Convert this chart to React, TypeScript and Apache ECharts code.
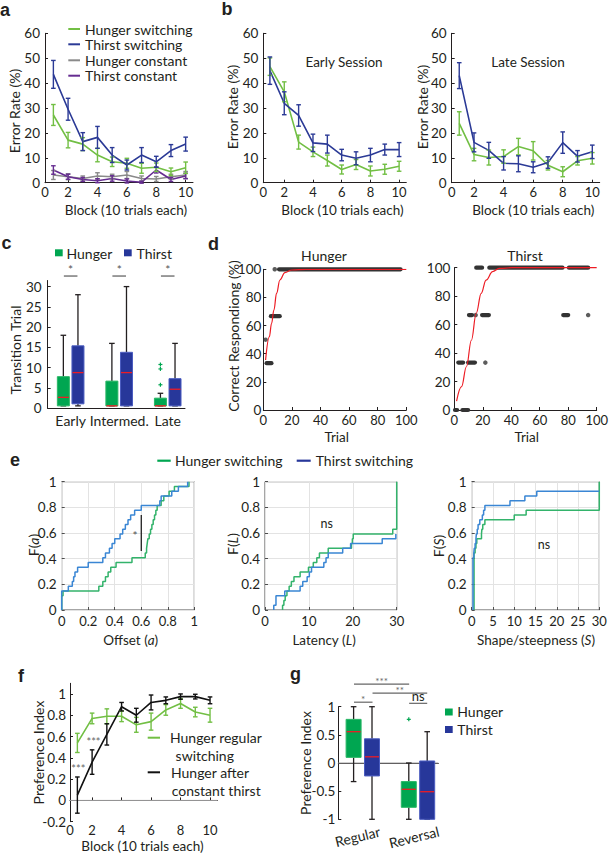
import React, { useEffect, useRef } from 'react';
import * as echarts from 'echarts';

// ---------------- DATA ----------------
const blocks = [1, 2, 3, 4, 5, 6, 7, 8, 9, 10];

// panel a (error rate %, mean and half error bar)
const aHungerSwitchMean = [27.2, 17.1, 15.5, 11.1, 8.4, 7.8, 5.8, 6.2, 4.4, 6.0];
const aHungerSwitchErr = [4.2, 3.1, 2.6, 2.7, 1.9, 2.0, 2.0, 1.7, 1.5, 2.3];
const aThirstSwitchMean = [43.5, 29.5, 16.5, 18.2, 11.1, 7.1, 11.1, 8.4, 12.9, 15.5];
const aThirstSwitchErr = [5.6, 4.4, 3.6, 4.4, 3.0, 2.0, 3.0, 2.2, 2.4, 2.8];
const aHungerConstMean = [3.1, 2.4, 1.7, 2.7, 2.4, 3.1, 1.7, 1.5, 2.4, 3.1];
const aHungerConstErr = [1.8, 1.2, 1.0, 1.3, 1.0, 1.4, 1.0, 1.0, 1.0, 1.4];
const aThirstConstMean = [5.1, 2.4, 1.3, 0.8, 1.7, 0.7, 0.2, 5.1, 1.3, 2.7];
const aThirstConstErr = [1.7, 1.0, 0.8, 0.8, 1.1, 0.8, 0.4, 1.2, 0.8, 1.1];

// panel b
const bEarlyThirstMean = [45.0, 31.9, 27.0, 16.0, 15.5, 11.1, 9.8, 11.1, 13.3, 13.3];
const bEarlyThirstErr = [5.5, 4.6, 4.3, 3.5, 3.6, 2.3, 2.6, 2.7, 2.2, 2.8];
const bEarlyHungerMean = [46.6, 36.5, 16.3, 12.4, 8.9, 5.3, 7.3, 4.7, 5.4, 6.6];
const bEarlyHungerErr = [3.5, 4.0, 2.8, 1.9, 2.2, 1.8, 2.0, 2.0, 2.0, 2.0];
const bLateThirstMean = [43.0, 16.2, 13.0, 7.8, 7.6, 6.2, 8.1, 16.1, 10.6, 12.4];
const bLateThirstErr = [5.2, 3.8, 3.2, 2.7, 3.2, 2.2, 2.3, 4.3, 2.3, 2.7];
const bLateHungerMean = [23.8, 11.3, 10.1, 10.5, 14.5, 12.8, 7.0, 4.4, 8.8, 9.8];
const bLateHungerErr = [4.7, 2.5, 3.0, 2.7, 3.3, 3.7, 1.9, 2.0, 1.7, 2.3];

// panel c (boxes: min, q1, median, q3, max)
const cCategories = ['Early', 'Intermed.', 'Late'];
const cHungerBoxes = [[0.6, 0.6, 2.7, 7.8, 18], [0.6, 0.6, 0.6, 6.7, 16], [0.6, 0.6, 0.6, 2.5, 3.7]];
const cThirstBoxes = [[0.6, 1.1, 8.8, 15.4, 28], [0.6, 0.6, 8.8, 13.8, 30], [0.6, 0.6, 4.7, 7.3, 16]];
const cHungerOutliers = [[3, 10.8], [3, 9.7], [3, 5.8]];
const cSignif = [[1, 32.6, '*'], [2, 32.6, '*'], [3, 32.6, '*']];

// panel d (trial, correct responding %)
const dHungerDots = [[1.6, 50], [8, 100]];
const dHungerRuns = [[2.3, 5.7, 33.3], [5.3, 11.5, 66.7], [11, 96, 100]];
const dHungerFit = [[1.6, 35.5], [4.2, 52], [5.8, 61.6], [7.4, 71], [9.3, 83], [11.6, 92.4], [15.1, 97.6], [19.8, 99.5], [30, 100], [100, 100]];
const dThirstDots = [[15, 66.7], [21.8, 33.3], [94, 66.7]];
const dThirstRuns = [[0.5, 2, 0], [5.7, 9.7, 0], [2.8, 6.2, 33.3], [9.7, 14.5, 33.3], [10.3, 12.5, 66.7], [19.5, 24.3, 66.7], [76.5, 80, 66.7], [15.4, 19.5, 100], [24.6, 76, 100], [80.5, 94, 100]];
const dThirstFit = [[1.6, 6.3], [5.1, 16.4], [8.5, 30.4], [12, 49], [15.4, 68], [18.9, 82], [22.3, 91.3], [26.9, 97.2], [31.5, 99.5], [40.7, 100], [100, 100]];

// panel e (empirical CDF breakpoints [value, F])
const eOffsetHunger = [[0, 0], [0, 0.111], [0.01, 0.148], [0.28, 0.185], [0.31, 0.222], [0.33, 0.259], [0.35, 0.296], [0.37, 0.333], [0.41, 0.370], [0.53, 0.407], [0.63, 0.444], [0.64, 0.481], [0.645, 0.519], [0.65, 0.556], [0.66, 0.593], [0.67, 0.630], [0.68, 0.667], [0.69, 0.704], [0.70, 0.741], [0.71, 0.778], [0.72, 0.815], [0.75, 0.852], [0.77, 0.889], [0.81, 0.926], [0.85, 0.963], [0.96, 1]];
const eOffsetThirst = [[0, 0], [0, 0.148], [0.05, 0.185], [0.08, 0.222], [0.09, 0.259], [0.10, 0.296], [0.12, 0.333], [0.20, 0.370], [0.31, 0.407], [0.33, 0.444], [0.36, 0.481], [0.38, 0.519], [0.40, 0.556], [0.44, 0.593], [0.46, 0.630], [0.48, 0.667], [0.50, 0.704], [0.52, 0.741], [0.55, 0.778], [0.60, 0.815], [0.74, 0.852], [0.75, 0.889], [0.83, 0.926], [0.88, 0.963], [0.95, 1]];
const eLatencyHunger = [[4.0, 0], [4.0, 0.037], [4.3, 0.074], [4.6, 0.111], [5.0, 0.148], [5.5, 0.185], [6.0, 0.222], [6.6, 0.259], [8.0, 0.296], [9.9, 0.333], [11.0, 0.370], [11.8, 0.407], [12.4, 0.444], [14.4, 0.481], [19.7, 0.519], [19.9, 0.556], [20.1, 0.593], [29.1, 0.630], [30, 1]];
const eLatencyThirst = [[2.0, 0], [2.0, 0.037], [2.5, 0.111], [4.5, 0.148], [8.0, 0.185], [8.6, 0.222], [9.6, 0.259], [10.1, 0.296], [10.6, 0.333], [13.4, 0.370], [13.9, 0.407], [14.4, 0.444], [17.7, 0.481], [19.5, 0.519], [26.7, 0.556], [29.8, 0.593]];
const eShapeHunger = [[0.55, 0], [0.55, 0.444], [0.8, 0.481], [1.0, 0.519], [1.2, 0.556], [2.3, 0.593], [2.4, 0.630], [2.6, 0.667], [3.1, 0.704], [10.0, 0.741], [12.8, 0.778], [30, 1]];
const eShapeThirst = [[0.3, 0], [0.3, 0.407], [0.5, 0.444], [0.6, 0.481], [0.8, 0.519], [1.0, 0.556], [1.1, 0.593], [1.3, 0.630], [1.5, 0.667], [1.9, 0.704], [2.5, 0.741], [2.8, 0.778], [3.1, 0.815], [9.0, 0.852], [12.5, 0.889], [15.3, 0.926], [30, 0.926]];
const eOffsetDiff = [[0.6, 0.46], [0.6, 0.74]];

// panel f (preference index)
const fRegularMean = [0.54, 0.77, 0.79, 0.79, 0.71, 0.74, 0.85, 0.91, 0.83, 0.80];
const fRegularErr = [0.09, 0.05, 0.07, 0.05, 0.07, 0.08, 0.05, 0.045, 0.045, 0.065];
const fAfterMean = [0.05, 0.36, 0.62, 0.88, 0.80, 0.92, 0.94, 0.975, 0.975, 0.94];
const fAfterErr = [0.17, 0.115, 0.10, 0.04, 0.065, 0.07, 0.032, 0.025, 0.022, 0.032];

// panel g
const gCategories = ['Regular', 'Reversal'];
const gHungerBoxes = [[-0.33, 0.10, 0.556, 0.775, 1.0], [-1, -0.787, -0.467, -0.33, 0]];
const gThirstBoxes = [[-1, -0.23, 0.11, 0.43, 1.0], [-1, -1, -0.51, 0.036, 0.556]];
const gHungerOutliers = [[2, 0.775]];
const gSignif = [[0.84, 1.84, 1.40, '***'], [1.176, 2.167, 1.24, '**'], [0.84, 1.176, 1.08, '*'], [1.84, 2.167, 1.06, 'ns']];

// ---------------- STYLE ----------------
const FONT = 'Lato, "Open Sans", sans-serif';
const TXT = '#231f20';
const GREEN_L = '#72bf44';
const BLUE_D = '#2b3a96';
const GREY = '#8a8a8a';
const PURPLE = '#662d91';
const BOX_G = '#00a651';
const BOX_B = '#27379a';
const E_G = '#33b36b';
const E_B = '#3a86d4';
const RED = '#ed1c24';
const DOT = '#333333';

function buildOption() {
  const grid: any[] = [];
  const xAxis: any[] = [];
  const yAxis: any[] = [];
  const series: any[] = [];
  const graphic: any[] = [];

  const lbl = (extra: any = {}) => ({ color: TXT, fontFamily: FONT, fontSize: 13.5, ...extra });
  const line = { show: true, lineStyle: { color: TXT, width: 1 } };
  const tick = { show: true, inside: true, length: 3, lineStyle: { color: TXT, width: 1 } };

  function panel(g: any, x: any, y: any) {
    const i = grid.length;
    grid.push({ ...g, containLabel: false });
    xAxis.push({ type: 'value', gridIndex: i, axisLine: line, axisTick: tick, splitLine: { show: false }, ...x, axisLabel: lbl(x.axisLabel || {}) });
    yAxis.push({ type: 'value', gridIndex: i, axisLine: line, axisTick: tick, splitLine: { show: false }, ...y, axisLabel: lbl(y.axisLabel || {}) });
    return i;
  }

  function lineSeries(i: number, xs: number[], ys: number[], color: string, width = 1.6) {
    series.push({
      type: 'line', xAxisIndex: i, yAxisIndex: i, symbol: 'none', z: 3,
      data: ys.map((v, k) => [xs[k], v]),
      lineStyle: { color, width },
    });
  }
  function errSeries(i: number, means: number[], errs: number[], color: string) {
    series.push({
      type: 'custom', xAxisIndex: i, yAxisIndex: i, z: 4,
      data: means.map((m, k) => [blocks[k], m, errs[k]]),
      renderItem: (p: any, api: any) => {
        const x = api.value(0), m = api.value(1), e = api.value(2);
        const a = api.coord([x, m - e]);
        const b = api.coord([x, m + e]);
        const cw = 2.3;
        const st = { stroke: color, lineWidth: 1.4 };
        return {
          type: 'group', children: [
            { type: 'line', shape: { x1: a[0], y1: a[1], x2: b[0], y2: b[1] }, style: st },
            { type: 'line', shape: { x1: a[0] - cw, y1: a[1], x2: a[0] + cw, y2: a[1] }, style: st },
            { type: 'line', shape: { x1: b[0] - cw, y1: b[1], x2: b[0] + cw, y2: b[1] }, style: st },
          ],
        };
      },
    });
  }
  function meanErr(i: number, means: number[], errs: number[], color: string) {
    lineSeries(i, blocks, means, color);
    errSeries(i, means, errs, color);
  }
  function boxSeries(i: number, boxes: number[][], offset: number, halfW: number, color: string, edge: string) {
    series.push({
      type: 'custom', xAxisIndex: i, yAxisIndex: i, z: 4,
      data: boxes.map((b, k) => [k + 1, ...b]),
      renderItem: (p: any, api: any) => {
        const x = api.value(0);
        const mn = api.value(1), q1 = api.value(2), md = api.value(3), q3 = api.value(4), mx = api.value(5);
        const cx = api.coord([x, 0])[0] + offset;
        const y = (v: number) => api.coord([x, v])[1];
        const w = { stroke: TXT, lineWidth: 1.3 };
        const cw = 2.8;
        return {
          type: 'group', children: [
            { type: 'line', shape: { x1: cx, y1: y(mx), x2: cx, y2: y(q3) }, style: w },
            { type: 'line', shape: { x1: cx, y1: y(q1), x2: cx, y2: y(mn) }, style: w },
            { type: 'line', shape: { x1: cx - cw, y1: y(mx), x2: cx + cw, y2: y(mx) }, style: w },
            { type: 'line', shape: { x1: cx - cw, y1: y(mn), x2: cx + cw, y2: y(mn) }, style: w },
            { type: 'rect', shape: { x: cx - halfW, y: y(q3), width: halfW * 2, height: Math.max(1, y(q1) - y(q3)) }, style: { fill: color, stroke: edge, lineWidth: 1 } },
            { type: 'line', shape: { x1: cx - halfW + 0.5, y1: y(md), x2: cx + halfW - 0.5, y2: y(md) }, style: { stroke: RED, lineWidth: 1.3 } },
          ],
        };
      },
    });
  }
  function plusSeries(i: number, pts: number[][], offset: number, color: string) {
    series.push({
      type: 'custom', xAxisIndex: i, yAxisIndex: i, z: 5,
      data: pts,
      renderItem: (p: any, api: any) => {
        const c = api.coord([api.value(0), api.value(1)]);
        const cx = c[0] + offset, cy = c[1], r = 2;
        const st = { stroke: color, lineWidth: 1.2 };
        return {
          type: 'group', children: [
            { type: 'line', shape: { x1: cx - r, y1: cy, x2: cx + r, y2: cy }, style: st },
            { type: 'line', shape: { x1: cx, y1: cy - r, x2: cx, y2: cy + r }, style: st },
          ],
        };
      },
    });
  }
  function runSeries(i: number, runs: number[][]) {
    series.push({
      type: 'custom', xAxisIndex: i, yAxisIndex: i, z: 3,
      data: runs,
      renderItem: (p: any, api: any) => {
        const a = api.coord([api.value(0), api.value(2)]);
        const b = api.coord([api.value(1), api.value(2)]);
        return { type: 'line', shape: { x1: a[0], y1: a[1], x2: b[0], y2: b[1] }, style: { stroke: DOT, lineWidth: 4.2, lineCap: 'round' } };
      },
    });
  }
  function dotSeries(i: number, pts: number[][]) {
    series.push({ type: 'scatter', xAxisIndex: i, yAxisIndex: i, z: 3, symbolSize: 4.5, itemStyle: { color: DOT }, data: pts });
  }
  function fitSeries(i: number, pts: number[][]) {
    series.push({ type: 'line', xAxisIndex: i, yAxisIndex: i, z: 4, symbol: 'none', smooth: 0.4, smoothMonotone: 'x', data: pts, lineStyle: { color: RED, width: 1.2 } });
  }
  function stepSeries(i: number, pts: number[][], color: string) {
    series.push({ type: 'line', xAxisIndex: i, yAxisIndex: i, z: 3, symbol: 'none', step: 'end', data: pts, lineStyle: { color, width: 1.5 } });
  }

  const text = (t: string, x: number, y: number, o: any = {}) => {
    const size = o.size || 14;
    const el: any = {
      type: 'text', x, y, rotation: o.rot || 0, z: 100,
      style: {
        text: t, x: 0, y: 0, fill: o.color || TXT,
        font: `${o.weight || 'normal'} ${size}px ${o.font || FONT}`,
        align: o.align || 'center', textAlign: o.align || 'center',
        verticalAlign: o.va || 'middle', textVerticalAlign: o.va || 'middle',
        rich: { i: { fontStyle: 'italic', fontSize: size, fontFamily: FONT, fill: o.color || TXT } },
      },
    };
    graphic.push(el);
  };
  const vtext = (t: string, x: number, y: number, o: any = {}) => text(t, x, y, { ...o, rot: Math.PI / 2 });
  const gline = (x1: number, y1: number, x2: number, y2: number, color: string, w = 2) =>
    graphic.push({ type: 'line', z: 100, shape: { x1, y1, x2, y2 }, style: { stroke: color, lineWidth: w } });
  const grect = (x: number, y: number, w: number, h: number, color: string) =>
    graphic.push({ type: 'rect', z: 100, shape: { x, y, width: w, height: h }, style: { fill: color } });

  const letter = (t: string, x: number, y: number) => text(t, x, y, { size: 18, weight: 'bold', align: 'left', font: '"Liberation Sans", Arial, sans-serif' });

  const blockX = (min: number, margin = 3, fontSize = 13) => ({
    min, max: 10.5,
    axisLabel: { margin, fontSize, customValues: [min, 2, 4, 6, 8, 10], formatter: (v: number) => (v < 1 ? '0' : String(v)) },
    axisTick: { ...tick, customValues: [min, 2, 4, 6, 8, 10] },
  });
  const errY = { min: 0, max: 60, interval: 10, axisLabel: { margin: 5 } };

  // ---- panel a ----
  const ia = panel({ left: 45, top: 33.3, width: 148, height: 149.4 }, blockX(0.43), errY);
  meanErr(ia, aHungerConstMean, aHungerConstErr, GREY);
  meanErr(ia, aThirstConstMean, aThirstConstErr, PURPLE);
  meanErr(ia, aHungerSwitchMean, aHungerSwitchErr, GREEN_L);
  meanErr(ia, aThirstSwitchMean, aThirstSwitchErr, BLUE_D);
  letter('a', 0, 10);
  vtext('Error Rate (%)', 14, 111);
  text('Block (10 trials each)', 126, 210, { size: 13.5 });
  const aLeg: [string, string, number][] = [['Hunger switching', GREEN_L, 29], ['Thirst switching', BLUE_D, 44.3], ['Hunger constant', GREY, 60.3], ['Thirst constant', PURPLE, 75.7]];
  aLeg.forEach(([t, c, y]) => { gline(68.3, y, 80, y, c, 2); text(t, 85, y, { align: 'left' }); });

  // ---- panel b ----
  const ibE = panel({ left: 263.3, top: 33.3, width: 143, height: 149.4 }, blockX(0.54), errY);
  meanErr(ibE, bEarlyHungerMean, bEarlyHungerErr, GREEN_L);
  meanErr(ibE, bEarlyThirstMean, bEarlyThirstErr, BLUE_D);
  const ibL = panel({ left: 451.7, top: 33.3, width: 148, height: 149.4 }, blockX(0.49), errY);
  meanErr(ibL, bLateHungerMean, bLateHungerErr, GREEN_L);
  meanErr(ibL, bLateThirstMean, bLateThirstErr, BLUE_D);
  letter('b', 221.5, 9);
  vtext('Error Rate (%)', 232, 107);
  vtext('Error Rate (%)', 422, 107);
  text('Block (10 trials each)', 342.5, 210, { size: 13.5 });
  text('Block (10 trials each)', 533.3, 210, { size: 13.5 });
  text('Early Session', 344, 61.7, { size: 13.5 });
  text('Late Session', 528, 61.7, { size: 13.5 });

  // ---- panel c ----
  const ic = panel({ left: 47.7, top: 280.5, width: 137.3, height: 127.8 },
    { min: 0.527, max: 3.356, axisTick: { show: false }, axisLabel: { fontSize: 14, margin: 5, customValues: [1, 2, 3], formatter: (v: number) => cCategories[Math.round(v) - 1] } },
    { min: 0, max: 31.5, axisLabel: { margin: 6, customValues: [0, 5, 10, 15, 20, 25, 30] }, axisTick: { ...tick, customValues: [0, 5, 10, 15, 20, 25, 30] } });
  boxSeries(ic, cHungerBoxes, -7.3, 6, BOX_G, '#29b765');
  boxSeries(ic, cThirstBoxes, 7.3, 6, BOX_B, '#4a5cc0');
  plusSeries(ic, cHungerOutliers, -7.3, BOX_G);
  series.push({
    type: 'custom', xAxisIndex: ic, yAxisIndex: ic, z: 5, clip: false,
    data: cSignif,
    renderItem: (p: any, api: any) => {
      const a = api.coord([api.value(0) - 0.14, api.value(1)]);
      const b = api.coord([api.value(0) + 0.14, api.value(1)]);
      return {
        type: 'group', children: [
          { type: 'line', shape: { x1: a[0], y1: a[1], x2: b[0], y2: b[1] }, style: { stroke: '#666', lineWidth: 1.3 } },
          { type: 'text', style: { text: cSignif[p.dataIndex][2], x: (a[0] + b[0]) / 2, y: a[1] - 1, fill: '#555', font: `12px ${FONT}`, align: 'center', textAlign: 'center', verticalAlign: 'bottom', textVerticalAlign: 'bottom' } },
        ],
      };
    },
  });
  letter('c', 1.5, 243);
  vtext('Transition Trial', 15.3, 350);
  grect(55, 249.3, 7.7, 7, BOX_G);
  text('Hunger', 66.5, 253, { align: 'left' });
  grect(124, 249.3, 7.7, 7, BOX_B);
  text('Thirst', 136.5, 253, { align: 'left' });

  // ---- panel d ----
  const pctY = { min: 0, max: 100, interval: 20, axisLabel: { margin: 2 } };
  const trialX = { min: 0, max: 100, interval: 20, axisLabel: { margin: 3, fontSize: 13 } };
  const idH = panel({ left: 263.3, top: 269.3, width: 143, height: 140.7 }, trialX, pctY);
  runSeries(idH, dHungerRuns);
  dotSeries(idH, dHungerDots);
  fitSeries(idH, dHungerFit);
  const idT = panel({ left: 454.3, top: 267.7, width: 145, height: 142.3 }, trialX, { ...pctY, axisLabel: { margin: 4 } });
  runSeries(idT, dThirstRuns);
  dotSeries(idT, dThirstDots);
  fitSeries(idT, dThirstFit);
  letter('d', 208, 244);
  text('Hunger', 324, 255);
  text('Thirst', 525, 255);
  vtext('Correct Respondiong (%)', 233, 336);
  text('Trial', 336.7, 437, { size: 13.5 });
  text('Trial', 526.7, 437, { size: 13.5 });

  // ---- panel e ----
  const boxGrid = (left: number, width: number) => ({ left, top: 481.7, width, height: 128.3, show: true, borderColor: '#4d4d4d', borderWidth: 1, backgroundColor: 'transparent' });
  const eSplit = { show: true, lineStyle: { color: '#e3e3e3', width: 1 } };
  const eTick = { show: true, inside: true, length: 3, lineStyle: { color: '#4d4d4d' } };
  const eY = { min: 0, max: 1, interval: 0.2, axisLine: { show: false }, axisTick: eTick, splitLine: eSplit, axisLabel: { margin: 5 } };
  const eX = (max: number, interval: number) => ({ min: 0, max, interval, axisLine: { show: false }, axisTick: eTick, splitLine: eSplit, axisLabel: { margin: 4, fontSize: 13 } });
  const ie1 = panel(boxGrid(61.7, 132.6), eX(1, 0.2), eY);
  stepSeries(ie1, eOffsetHunger, E_G);
  stepSeries(ie1, eOffsetThirst, E_B);
  series.push({ type: 'line', xAxisIndex: ie1, yAxisIndex: ie1, z: 4, symbol: 'none', data: eOffsetDiff, lineStyle: { color: '#111', width: 1.2 } });
  const ie2 = panel(boxGrid(265, 131.7), eX(30, 10), eY);
  stepSeries(ie2, eLatencyHunger, E_G);
  stepSeries(ie2, eLatencyThirst, E_B);
  const ie3 = panel(boxGrid(471.7, 127.6), eX(30, 5), eY);
  stepSeries(ie3, eShapeHunger, E_G);
  stepSeries(ie3, eShapeThirst, E_B);
  letter('e', 10, 460);
  gline(157.3, 460.7, 170.7, 460.7, BOX_G, 2.2);
  text('Hunger switching', 175, 460.7, { align: 'left' });
  gline(296.7, 460.7, 310.7, 460.7, BOX_B, 2.2);
  text('Thirst switching', 315.7, 460.7, { align: 'left' });
  vtext('F({i|a})', 33.3, 545);
  vtext('F({i|L})', 232.3, 544);
  vtext('F({i|S})', 438, 546);
  text('Offset ({i|a})', 130.7, 639.5, { size: 13.5 });
  text('Latency ({i|L})', 324, 639.5, { size: 13.5 });
  text('Shape/steepness ({i|S})', 536, 639.5, { size: 13.5 });
  text('*', 135, 535, { size: 12, color: '#555' });
  text('ns', 326.7, 523.3, { size: 12.5 });
  text('ns', 544, 544.3, { size: 12.5 });

  // ---- panel f ----
  const ifp = panel({ left: 70, top: 683.3, width: 147.4, height: 138.4 }, blockX(0.5, 2, 13),
    { min: -0.2, max: 1.1, axisLabel: { margin: 4, customValues: [-0.2, 0, 0.2, 0.4, 0.6, 0.8, 1], formatter: (v: number) => String(Math.round(v * 10) / 10) }, axisTick: { ...tick, customValues: [-0.2, 0, 0.2, 0.4, 0.6, 0.8, 1] } });
  series.push({ type: 'line', xAxisIndex: ifp, yAxisIndex: ifp, z: 2, symbol: 'none', data: [[0.5, 0], [10.5, 0]], lineStyle: { color: '#a0a0a0', width: 1 } });
  meanErr(ifp, fRegularMean, fRegularErr, GREEN_L);
  meanErr(ifp, fAfterMean, fAfterErr, '#111111');
  letter('f', 18, 676);
  vtext('Preference Index', 38.3, 752.5);
  text('Block (10 trials each)', 142.5, 846.3, { size: 13.5 });
  text('***', 93.5, 741, { size: 11, color: '#666' });
  text('***', 78.3, 768.5, { size: 11, color: '#666' });
  gline(147.7, 737.7, 160, 737.7, GREEN_L, 2);
  text('Hunger regular', 170, 737.7, { align: 'left' });
  text(' switching', 172, 755, { align: 'left' });
  gline(147.7, 772.3, 160, 772.3, '#111', 2);
  text('Hunger after', 171, 772.3, { align: 'left' });
  text('constant thirst', 171.7, 790, { align: 'left' });

  // ---- panel g ----
  const gXMin = 0.556, gXMax = 2.368;
  const ig = panel({ left: 338.3, top: 706.7, width: 100, height: 112.6 },
    { min: gXMin, max: gXMax, axisLabel: { show: false }, axisTick: { show: false } },
    { min: -1, max: 1, axisLabel: { margin: 3, customValues: [-1, -0.5, 0, 0.5, 1] }, axisTick: { ...tick, customValues: [-1, -0.5, 0, 0.5, 1] } });
  series.push({ type: 'line', xAxisIndex: ig, yAxisIndex: ig, z: 2, symbol: 'none', data: [[gXMin, 0], [gXMax, 0]], lineStyle: { color: '#a0a0a0', width: 1 } });
  boxSeries(ig, gHungerBoxes, -9.2, 7.5, BOX_G, '#29b765');
  boxSeries(ig, gThirstBoxes, 9.2, 7.5, BOX_B, '#4a5cc0');
  plusSeries(ig, gHungerOutliers, -9.2, BOX_G);
  series.push({
    type: 'custom', xAxisIndex: ig, yAxisIndex: ig, z: 5, clip: false,
    data: gSignif.map((s) => [s[0], s[1], s[2]]),
    renderItem: (p: any, api: any) => {
      const a = api.coord([api.value(0), api.value(2)]);
      const b = api.coord([api.value(1), api.value(2)]);
      const lab = gSignif[p.dataIndex][3] as string;
      const isNs = lab === 'ns';
      return {
        type: 'group', children: [
          { type: 'line', shape: { x1: a[0], y1: a[1], x2: b[0], y2: b[1] }, style: { stroke: '#666', lineWidth: 1.2 } },
          { type: 'text', style: { text: lab, x: (a[0] + b[0]) / 2, y: a[1] + (isNs ? -1 : 2), fill: isNs ? TXT : '#666', font: `${isNs ? 13 : 10}px ${FONT}`, align: 'center', textAlign: 'center', verticalAlign: 'bottom', textVerticalAlign: 'bottom' } },
        ],
      };
    },
  });
  letter('g', 290, 674);
  vtext('Preference Index', 305, 763);
  text(gCategories[0], 357.5, 836.5, { rot: 0.24 });
  text(gCategories[1], 414, 837, { rot: 0.24 });
  grect(445, 708.5, 7.7, 7, BOX_G);
  text('Hunger', 457.3, 711.7, { align: 'left' });
  grect(445, 726, 7.7, 7, BOX_B);
  text('Thirst', 457.3, 729.3, { align: 'left' });

  return {
    animation: false,
    backgroundColor: '#ffffff',
    textStyle: { fontFamily: FONT },
    grid, xAxis, yAxis, series, graphic,
  };
}

export default function App() {
  const ref = useRef<HTMLDivElement>(null);
  useEffect(() => {
    if (!ref.current) return;
    const chart = echarts.init(ref.current, undefined, { renderer: 'svg' });
    chart.setOption(buildOption() as any);
    return () => chart.dispose();
  }, []);
  return <div ref={ref} style={{ position: 'absolute', left: 0, top: 0, width: 611, height: 853, background: '#fff' }} />;
}
